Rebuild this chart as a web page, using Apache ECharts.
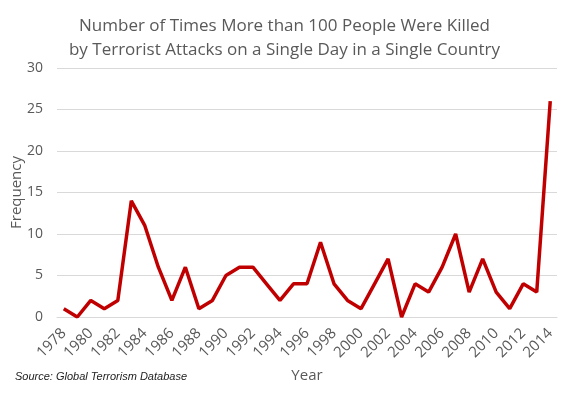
<!DOCTYPE html>
<html>
<head>
<meta charset="utf-8">
<script src="https://cdn.jsdelivr.net/npm/echarts@6/dist/echarts.min.js"></script>
<style>
  html, body { margin: 0; padding: 0; background: #fff; }
  #chart { width: 569px; height: 398px; }
</style>
</head>
<body>
<div id="chart"></div>
<script>
const years = [];
for (let y = 1978; y <= 2014; y++) years.push(String(y));
const frequency = [1, 0, 2, 1, 2, 14, 11, 6, 2, 6, 1, 2, 5, 6, 6, 4, 2, 4, 4, 9, 4, 2, 1, 4, 7, 0, 4, 3, 6, 10, 3, 7, 3, 1, 4, 3, 26];
const yTicks = [0, 5, 10, 15, 20, 25, 30];

const chart = echarts.init(document.getElementById('chart'));
const font = 'Open Sans, Liberation Sans, sans-serif';
chart.setOption({
  animation: false,
  title: {
    text: 'Number of Times More than 100 People Were Killed\nby Terrorist Attacks on a Single Day in a Single Country',
    left: 'center',
    top: 9,
    textStyle: { fontFamily: font, fontSize: 17, fontWeight: 'normal', color: '#595959', lineHeight: 24 }
  },
  grid: { left: 57, right: 12, top: 68, bottom: 81, outerBoundsMode: 'none' },
  xAxis: {
    type: 'category',
    data: years,
    boundaryGap: true,
    name: 'Year',
    nameLocation: 'middle',
    nameGap: 51,
    nameTextStyle: { fontFamily: font, fontSize: 15, color: '#595959' },
    axisLine: { lineStyle: { color: '#d9d9d9' } },
    axisTick: { show: false },
    axisLabel: { interval: 1, rotate: 45, margin: 14, fontFamily: font, fontSize: 15, color: '#595959' }
  },
  yAxis: {
    type: 'value',
    min: yTicks[0],
    max: yTicks[yTicks.length - 1],
    interval: 5,
    name: 'Frequency',
    nameLocation: 'middle',
    nameRotate: 90,
    nameGap: 33,
    nameMoveOverlap: false,
    nameTextStyle: { fontFamily: font, fontSize: 15, color: '#595959' },
    axisLine: { show: false },
    axisTick: { show: false },
    axisLabel: { margin: 14, fontFamily: font, fontSize: 14, color: '#595959' },
    splitLine: { lineStyle: { color: '#d9d9d9', width: 1 } }
  },
  graphic: [{
    type: 'text',
    left: 15,
    top: 371,
    style: { text: 'Source: Global Terrorism Database', font: 'italic 11px Liberation Sans, sans-serif', fill: '#222' }
  }],
  series: [{
    type: 'line',
    data: frequency,
    symbol: 'none',
    lineStyle: { color: '#c00000', width: 3.5 }
  }]
});
</script>
</body>
</html>
